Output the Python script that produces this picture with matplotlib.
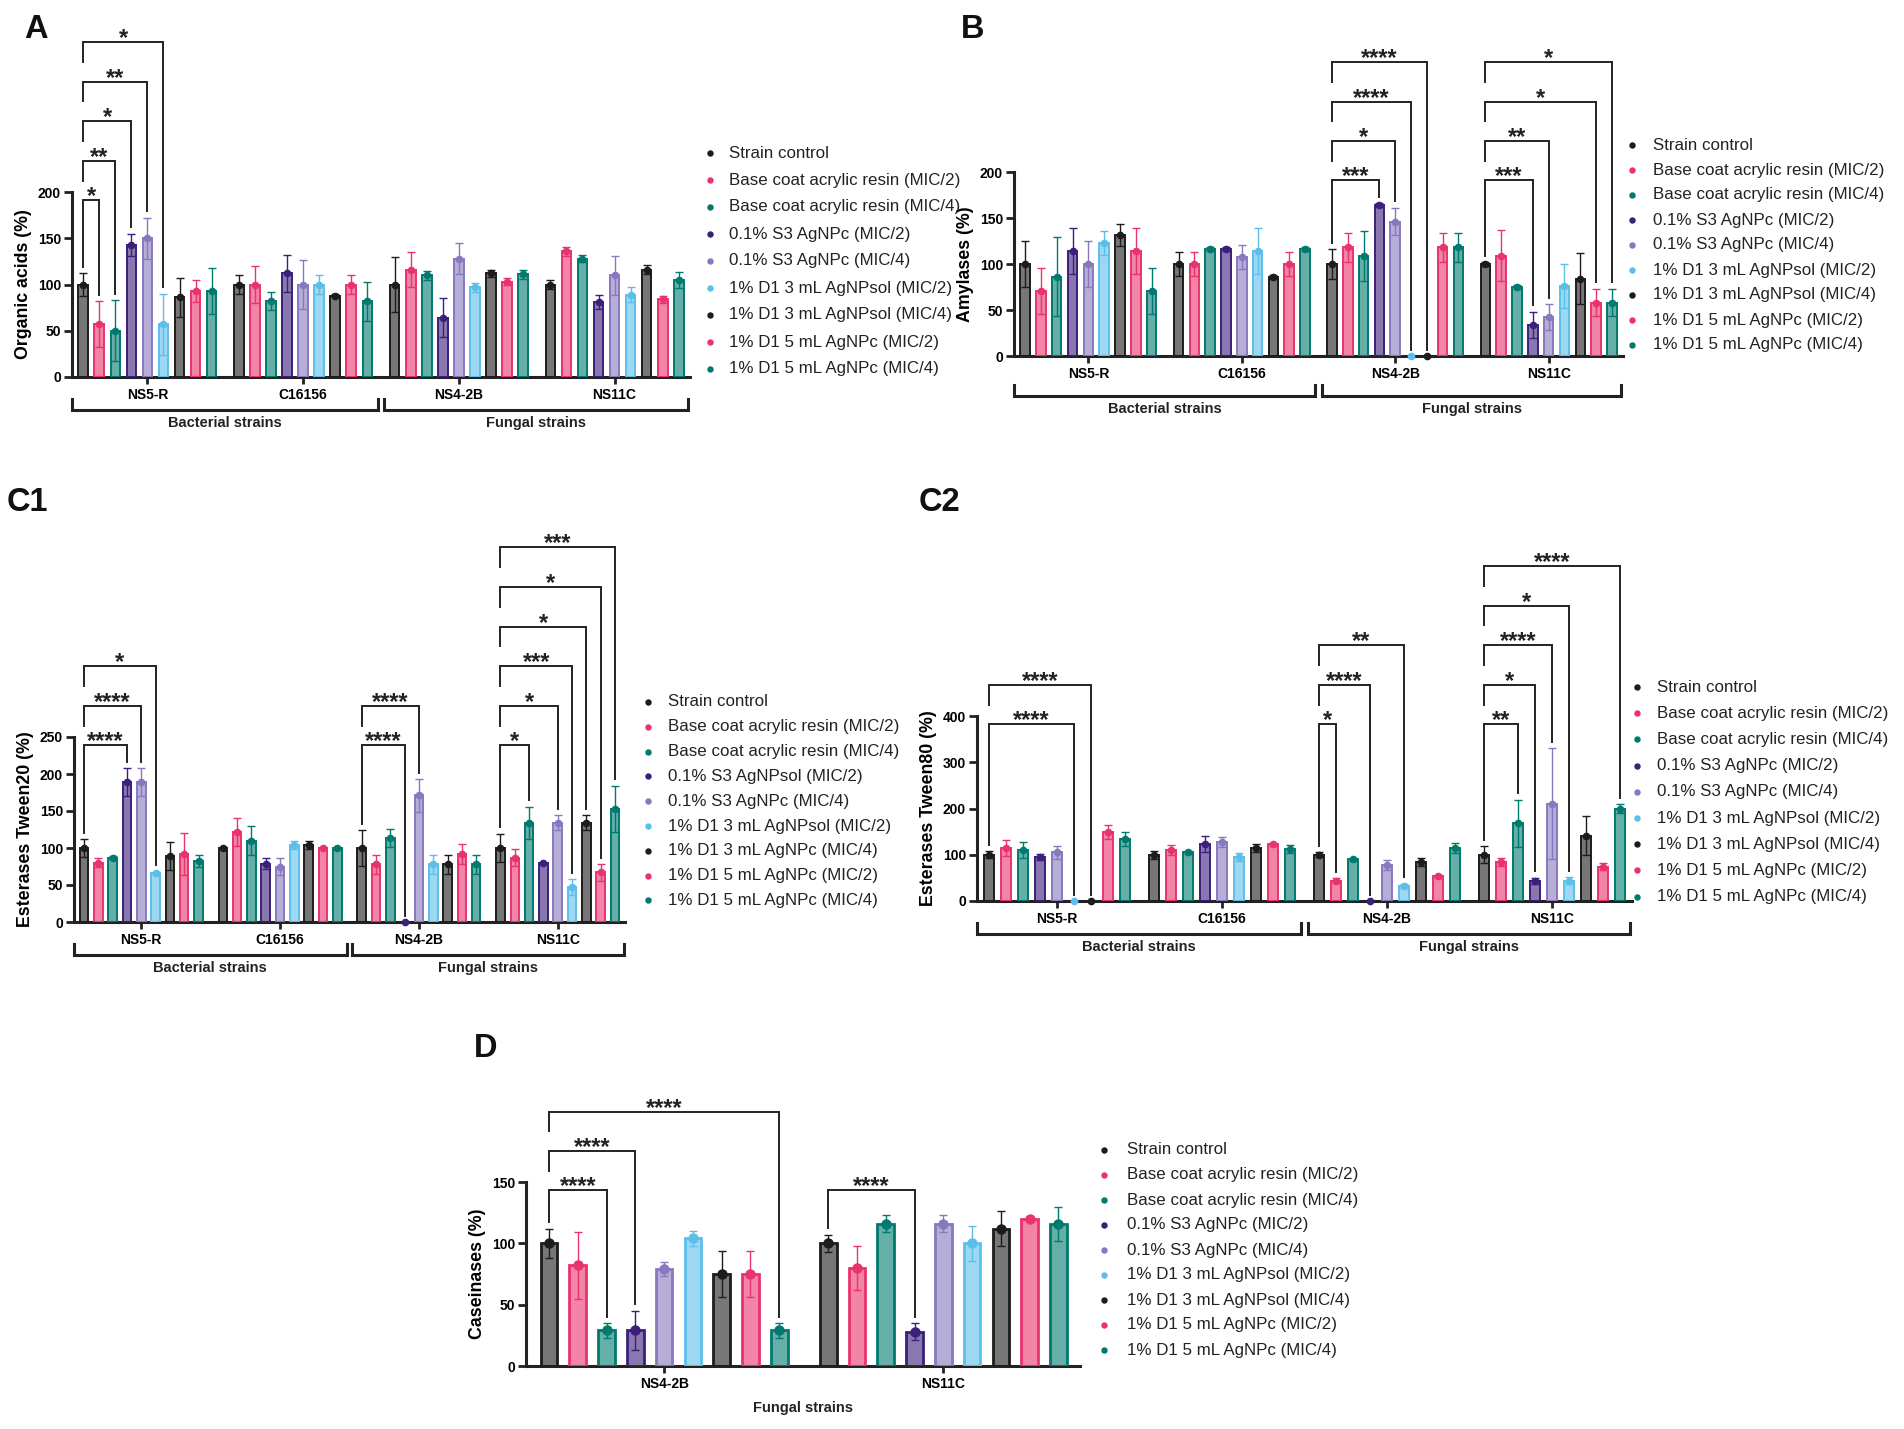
import matplotlib
matplotlib.use('Agg')
import matplotlib.pyplot as plt
import matplotlib.transforms as mtransforms
from matplotlib.lines import Line2D
import numpy as np

plt.rcParams['font.family'] = ['Liberation Sans', 'DejaVu Sans']

# ---------------- data ----------------
groups4 = ["NS5-R", "C16156", "NS4-2B", "NS11C"]
groupsD = ["NS4-2B", "NS11C"]

labels_std = ["Strain control", "Base coat acrylic resin (MIC/2)", "Base coat acrylic resin (MIC/4)",
              "0.1% S3 AgNPc (MIC/2)", "0.1% S3 AgNPc (MIC/4)", "1% D1 3 mL AgNPsol (MIC/2)",
              "1% D1 3 mL AgNPsol (MIC/4)", "1% D1 5 mL AgNPc (MIC/2)", "1% D1 5 mL AgNPc (MIC/4)"]
labels_C1 = ["Strain control", "Base coat acrylic resin (MIC/2)", "Base coat acrylic resin (MIC/4)",
             "0.1% S3 AgNPsol (MIC/2)", "0.1% S3 AgNPc (MIC/4)", "1% D1 3 mL AgNPsol (MIC/2)",
             "1% D1 3 mL AgNPc (MIC/4)", "1% D1 5 mL AgNPc (MIC/2)", "1% D1 5 mL AgNPc (MIC/4)"]

A_mean = [[100, 57, 50, 143, 150, 57, 86, 93, 93],
          [100, 100, 82, 112, 100, 100, 88, 100, 82],
          [100, 116, 110, 64, 128, 97, 112, 103, 111],
          [100, 136, 128, 81, 110, 89, 116, 84, 105]]
A_err = [[12, 25, 33, 12, 22, 33, 21, 12, 25],
         [10, 20, 10, 20, 27, 10, 2, 10, 21],
         [30, 19, 5, 21, 17, 5, 4, 4, 5],
         [5, 5, 4, 8, 21, 8, 5, 4, 9]]
A_sig = [(0, 1, '*'), (0, 2, '**'), (0, 3, '*'), (0, 4, '**'), (0, 5, '*')]

B_mean = [[100, 71, 86, 114, 100, 123, 132, 114, 71],
          [100, 100, 116, 116, 108, 114, 86, 100, 116],
          [100, 118, 109, 164, 146, 0, 0, 118, 118],
          [100, 109, 75, 34, 42, 76, 84, 58, 58]]
B_err = [[25, 25, 43, 25, 25, 13, 12, 25, 25],
         [13, 13, 2, 2, 13, 25, 2, 13, 2],
         [16, 16, 27, 2, 15, 0, 0, 16, 16],
         [2, 28, 2, 14, 14, 24, 28, 15, 15]]
B_sig = [(2, 3, '***'), (2, 4, '*'), (2, 5, '****'), (2, 6, '****'),
         (3, 3, '***'), (3, 4, '**'), (3, 7, '*'), (3, 8, '*')]

C1_mean = [[100, 80, 87, 189, 189, 66, 89, 92, 82],
           [100, 122, 110, 79, 75, 104, 104, 100, 100],
           [100, 78, 114, 0, 171, 78, 78, 92, 78],
           [100, 87, 134, 80, 134, 47, 134, 67, 153]]
C1_err = [[12, 6, 2, 19, 19, 2, 19, 28, 8],
          [1, 19, 20, 7, 12, 6, 6, 1, 1],
          [24, 13, 12, 0, 22, 13, 13, 13, 13],
          [19, 11, 22, 1, 10, 11, 10, 11, 31]]
C1_sig = [(0, 3, '****'), (0, 4, '****'), (0, 5, '*'), (2, 3, '****'), (2, 4, '****'),
          (3, 2, '*'), (3, 4, '*'), (3, 5, '***'), (3, 6, '*'), (3, 7, '*'), (3, 8, '***')]

C2_mean = [[100, 115, 110, 95, 105, 0, 0, 150, 135],
           [100, 110, 105, 123, 128, 95, 115, 123, 112],
           [100, 44, 90, 0, 78, 33, 85, 53, 115],
           [100, 84, 168, 43, 210, 44, 141, 74, 200]]
C2_err = [[8, 17, 17, 7, 15, 0, 0, 15, 15],
          [9, 11, 3, 17, 11, 8, 8, 3, 9],
          [5, 5, 4, 0, 11, 4, 9, 4, 11],
          [18, 8, 51, 7, 120, 7, 42, 8, 9]]
C2_sig = [(0, 5, '****'), (0, 6, '****'), (2, 1, '*'), (2, 3, '****'), (2, 5, '**'),
          (3, 2, '**'), (3, 3, '*'), (3, 4, '****'), (3, 5, '*'), (3, 8, '****')]

D_mean = [[100, 82, 29, 29, 79, 104, 75, 75, 29],
          [100, 80, 116, 28, 116, 100, 112, 120, 116]]
D_err = [[12, 27, 6, 16, 6, 6, 19, 19, 6],
         [7, 18, 7, 7, 7, 14, 14, 1, 14]]
D_sig = [(0, 2, '****'), (0, 3, '****'), (0, 8, '****'), (1, 3, '****')]

# ---------------- style ----------------
edge = ['#1c1c1c', '#e8336d', '#00796f', '#3b1f7a', '#8878bf', '#5cbfea',
        '#1c1c1c', '#e8336d', '#00796f']
INK = '#222222'
W, H, DPI = 1904, 1429, 100
GS = 9.7  # group spacing in bar units

fig = plt.figure(figsize=(W / DPI, H / DPI), dpi=DPI)


def panel(rect, mean, err, groups, sig, ymax, ystep, ylabel, labels, leg, letter,
          bar_w=0.6, lw=1.4, ms=4.5, strain_brackets=True, br_off=33, pad_l=0.7, pad_r=0.7):
    x0, yt, x1, yb = rect
    hpx = yb - yt
    ax = fig.add_axes([x0 / W, 1 - yb / H, (x1 - x0) / W, hpx / H])
    ax.patch.set_alpha(0)
    ng = len(groups)
    nser = len(mean[0])
    step = 0.214 * ymax
    gap = 0.035 * ymax
    for g in range(ng):
        for i in range(nser):
            x = g * GS + i
            m = mean[g][i]
            e = err[g][i]
            if e > 0:
                ax.errorbar(x, m, yerr=e, color=edge[i], lw=1.0, capsize=3.2,
                            capthick=1.0, zorder=2, fmt='none')
            if m > 0:
                ax.bar(x, m, width=bar_w, color=edge[i], alpha=0.6, lw=0, zorder=3)
                ax.bar(x, m, width=bar_w, facecolor='none', edgecolor=edge[i], lw=lw, zorder=4)
            ax.plot(x, m, 'o', color=edge[i], ms=ms, zorder=5, clip_on=False)
    # significance brackets
    level = {}
    for (g, t, s) in sig:
        k = level.get(g, 0)
        level[g] = k + 1
        yk = 0.955 * ymax + k * step
        xl = g * GS
        xr = g * GS + t
        r_end = mean[g][t] + err[g][t] + gap
        if k == 0:
            l_end = mean[g][0] + err[g][0] + gap
        else:
            l_end = yk - 0.5 * step
        ax.plot([xl, xl, xr, xr], [l_end, yk, yk, r_end], color=INK, lw=1.4,
                clip_on=False, solid_joinstyle='miter', zorder=6)
        ax.annotate(s, ((xl + xr) / 2, yk), xytext=(0, -2.2), textcoords='offset points',
                    ha='center', va='baseline', fontsize=17, fontweight='bold',
                    color=INK, annotation_clip=False)
    xlim = (-pad_l, (ng - 1) * GS + nser - 1 + pad_r)
    ax.set_xlim(*xlim)
    ax.set_ylim(0, ymax)
    for sp in ['top', 'right']:
        ax.spines[sp].set_visible(False)
    for sp in ['left', 'bottom']:
        ax.spines[sp].set_linewidth(2.2)
        ax.spines[sp].set_color(INK)
    ax.spines['left'].set_bounds(0, ymax)
    ax.set_yticks(np.arange(0, ymax + 0.1, ystep))
    ax.set_xticks([g * GS + (nser - 1) / 2 for g in range(ng)])
    ax.set_xticklabels(groups)
    ax.tick_params(axis='y', width=2.0, length=5.5, color=INK, labelsize=10, pad=2.5)
    ax.tick_params(axis='x', width=2.0, length=5.0, color=INK, labelsize=10, pad=3.0)
    for lab in ax.get_xticklabels() + ax.get_yticklabels():
        lab.set_fontweight('bold')
    ax.set_ylabel(ylabel, fontsize=12.8, fontweight='bold', labelpad=4)
    # bottom strain-type brackets
    if strain_brackets:
        trans = mtransforms.blended_transform_factory(ax.transData, ax.transAxes)
        mid = GS + (nser - 1) + (GS - (nser - 1)) / 2
        yl = -br_off / hpx
        yu = -(br_off - 11) / hpx
        for (a, b, txt) in [(xlim[0], mid - 0.2, 'Bacterial strains'),
                            (mid + 0.2, xlim[1] - 0.1, 'Fungal strains')]:
            ax.plot([a, a, b, b], [yu, yl, yl, yu], color=INK, lw=2.2, transform=trans,
                    clip_on=False, solid_joinstyle='miter')
            ax.text((a + b) / 2, -(br_off + 13) / hpx, txt, transform=trans, ha='center',
                    va='center', fontsize=10.5, fontweight='bold', color=INK)
    else:
        ax.text(0.5, -42 / hpx, 'Fungal strains', transform=ax.transAxes, ha='center',
                va='center', fontsize=10.5, fontweight='bold', color=INK)
    # legend
    xd, xt, ytop, sp = leg
    for i, lab in enumerate(labels):
        yy = 1 - (ytop + i * sp) / H
        fig.add_artist(Line2D([xd / W], [yy], marker='o', color=edge[i], ms=3.6,
                              lw=0, transform=fig.transFigure))
        fig.text(xt / W, yy, lab, va='center', ha='left', fontsize=12.2, color=INK)
    # letter
    lx, ly, ltxt = letter
    fig.text(lx / W, 1 - ly / H, ltxt, fontsize=23.5, fontweight='bold', va='baseline',
             ha='left', color='#111111')
    return ax


panel((72, 192, 690, 377), A_mean, A_err, groups4, A_sig, 200, 50, 'Organic acids (%)',
      labels_std, (710, 729, 153, 27.0), (24, 38, 'A'))
panel((1014, 172, 1623, 356), B_mean, B_err, groups4, B_sig, 200, 50, 'Amylases (%)',
      labels_std, (1632, 1653, 145, 25.0), (961, 38, 'B'), br_off=40)
panel((74, 737, 625, 922), C1_mean, C1_err, groups4, C1_sig, 250, 50, 'Esterases Tween20 (%)',
      labels_C1, (648, 668, 702, 24.8), (7, 511, 'C1'))
panel((977, 716, 1632, 901), C2_mean, C2_err, groups4, C2_sig, 400, 100, 'Esterases Tween80 (%)',
      labels_std, (1637, 1657, 687, 26.2), (919, 511, 'C2'))
panel((526, 1182, 1080, 1366), D_mean, D_err, groupsD, D_sig, 150, 50, 'Caseinases (%)',
      labels_std, (1104, 1127, 1150, 25.0), (474, 1057, 'D'), bar_w=0.58, lw=2.0, ms=6.5,
      strain_brackets=False, pad_l=0.8, pad_r=0.75)

fig.savefig('out.png', dpi=DPI)
